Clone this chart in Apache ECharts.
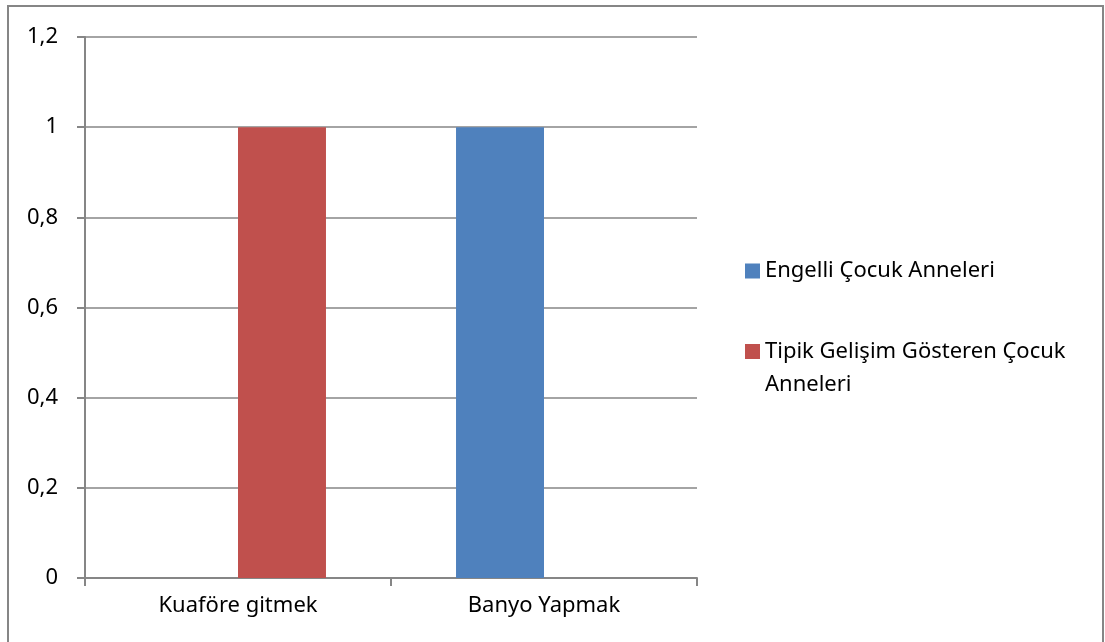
<!DOCTYPE html>
<html lang="tr">
<head>
<meta charset="UTF-8">
<title>Kuaföre gitmek / Banyo Yapmak</title>
<script src="https://cdn.jsdelivr.net/npm/echarts@6/dist/echarts.min.js"></script>
<style>
  html, body { margin: 0; padding: 0; background: #fff; }
  #chart { width: 1105px; height: 642px; }
</style>
</head>
<body>
<div id="chart"></div>
<script>
// veriler
var categories = ['Kuaföre gitmek', 'Banyo Yapmak'];
var engelli = [0, 1];
var tipik = [1, 0];
var seriesNames = ['Engelli Çocuk Anneleri', 'Tipik Gelişim Gösteren Çocuk Anneleri'];
var yTicks = [0, 0.2, 0.4, 0.6, 0.8, 1, 1.2];

var font = 'Noto Sans';
var gray = '#868686';

var chart = echarts.init(document.getElementById('chart'));

var option = {
    animation: false,
    backgroundColor: '#fff',
    graphic: [{
        type: 'rect',
        shape: { x: 8, y: 6, width: 1095, height: 700 },
        style: { fill: 'none', stroke: gray, lineWidth: 2 },
        silent: true
    }],
    grid: { left: 85, right: 408, top: 37, bottom: 64 },
    legend: {
        orient: 'vertical',
        left: 740,
        top: 242,
        itemWidth: 15,
        itemHeight: 48,
        itemGap: 40,
        selectedMode: false,
        data: [
            // kare ikon, metnin ilk satırıyla hizalı olsun diye boş noktalarla
            { name: seriesNames[0], icon: 'path://M0,0L0.001,0Z M0,16.5h15v15h-15z M15,48L14.999,48Z' },
            { name: seriesNames[1], icon: 'path://M0,0h15v15h-15z M15,48L14.999,48Z' }
        ],
        formatter: function (name) {
            if (name === seriesNames[1]) return 'Tipik Gelişim Gösteren Çocuk\nAnneleri';
            return name;
        },
        textStyle: { fontFamily: font, fontSize: 22, color: '#000', lineHeight: 33 }
    },
    xAxis: {
        type: 'category',
        data: categories,
        axisLine: { lineStyle: { color: gray, width: 2 } },
        axisTick: { show: true, length: 8, lineStyle: { color: gray, width: 2 } },
        axisLabel: { fontFamily: font, fontSize: 22, color: '#000', margin: 17 },
        splitLine: { show: false }
    },
    yAxis: {
        type: 'value',
        min: 0,
        max: 1.2,
        interval: 0.2,
        axisLine: { show: true, lineStyle: { color: gray, width: 2 } },
        axisTick: { show: true, length: 8, lineStyle: { color: gray, width: 2 } },
        axisLabel: {
            fontFamily: font, fontSize: 22, color: '#000', margin: 27,
            formatter: function (v) {
                var t = yTicks.find(function (x) { return Math.abs(x - v) < 1e-9; });
                return String(t !== undefined ? t : v).replace('.', ',');
            }
        },
        splitLine: { lineStyle: { color: gray, width: 1.5 } }
    },
    series: [{
        name: seriesNames[0],
        type: 'bar',
        data: engelli,
        barGap: '0%',
        barCategoryGap: '42.5%',
        itemStyle: { color: '#4F81BD' }
    }, {
        name: seriesNames[1],
        type: 'bar',
        data: tipik,
        itemStyle: { color: '#C0504D' }
    }]
};

chart.setOption(option);
</script>
</body>
</html>
